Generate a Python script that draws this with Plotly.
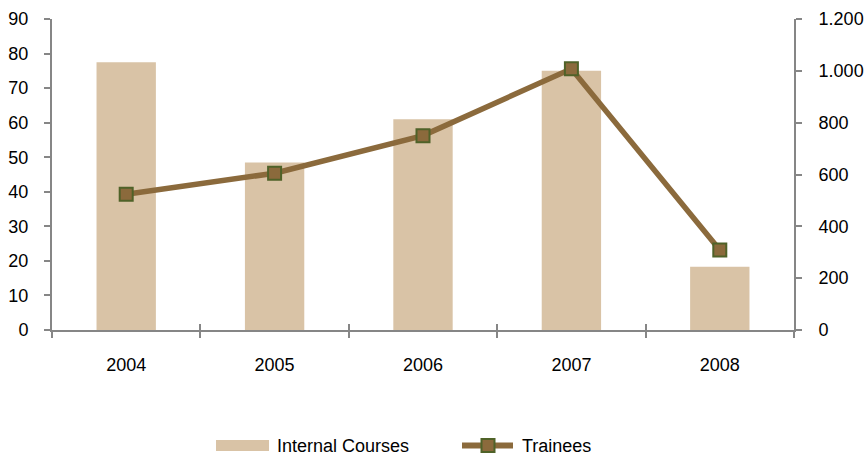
import plotly.graph_objects as go

years = ["2004", "2005", "2006", "2007", "2008"]
internal_courses = [77.5, 48.5, 61, 75, 18.3]
trainees = [524, 605, 750, 1008, 309]

left_ticks = [0, 10, 20, 30, 40, 50, 60, 70, 80, 90]
right_ticks = [0, 200, 400, 600, 800, 1000, 1200]
right_tick_text = ["0", "200", "400", "600", "800", "1.000", "1.200"]

BAR = "#D9C3A6"
LINE = "#8B6A3C"
EDGE = "#4F6228"
AXIS = "#868686"
FONT = dict(family="Liberation Sans, Arial, sans-serif", size=18, color="#000000")

W, H = 866, 460
ML, MR, MT, MB = 52, 72, 19, 130
PW, PH = W - ML - MR, H - MT - MB


def px(x):
    return (x - ML) / PW


def py(y):
    return (H - MB - y) / PH


fig = go.Figure()
fig.add_trace(go.Bar(
    x=years, y=internal_courses, name="Internal Courses",
    marker=dict(color=BAR, line=dict(width=0)),
    xaxis="x", yaxis="y", showlegend=False,
))
fig.add_trace(go.Scatter(
    x=years, y=trainees, name="Trainees", mode="lines+markers",
    line=dict(color=LINE, width=5.5),
    marker=dict(symbol="square", size=13, color=LINE, line=dict(color=EDGE, width=2)),
    xaxis="x", yaxis="y2", showlegend=False,
))
# invisible helper trace so the inside-tick overlay axis has categories
fig.add_trace(go.Scatter(x=years, y=[0] * len(years), mode="none", showlegend=False,
                         hoverinfo="skip", xaxis="x2", yaxis="y"))

axis_common = dict(showgrid=False, zeroline=False, linecolor=AXIS, linewidth=2,
                   tickcolor=AXIS, tickwidth=2, tickfont=FONT, automargin=False)
overlay_common = dict(showgrid=False, zeroline=False, showline=False, showticklabels=False,
                      ticks="inside", ticklen=6, tickcolor=AXIS, tickwidth=2, automargin=False)

# custom legend (wide swatches as in the original)
shapes = [
    dict(type="rect", xref="paper", yref="paper", x0=px(216), x1=px(269), y0=py(451), y1=py(440),
         fillcolor=BAR, line=dict(width=0)),
    dict(type="line", xref="paper", yref="paper", x0=px(462), x1=px(513), y0=py(445.5), y1=py(445.5),
         line=dict(color=LINE, width=6)),
    dict(type="rect", xref="paper", yref="paper", x0=px(481.5), x1=px(494.5), y0=py(452), y1=py(439),
         fillcolor=LINE, line=dict(color=EDGE, width=2)),
]
annotations = [
    dict(text="Internal Courses", xref="paper", yref="paper", x=px(275), y=py(446),
         xanchor="left", yanchor="middle", showarrow=False, font=FONT),
    dict(text="Trainees", xref="paper", yref="paper", x=px(520), y=py(446),
         xanchor="left", yanchor="middle", showarrow=False, font=FONT),
]

fig.update_layout(
    width=W, height=H,
    margin=dict(l=ML, r=MR, t=MT, b=MB),
    paper_bgcolor="white", plot_bgcolor="white",
    font=FONT,
    bargap=0.6,
    showlegend=False,
    shapes=shapes,
    annotations=annotations,
    xaxis=dict(**axis_common, type="category", categoryorder="array", categoryarray=years,
               range=[-0.5, 4.5], showline=True, ticks="outside", ticklen=6,
               tickson="boundaries", ticklabelstandoff=17),
    xaxis2=dict(**overlay_common, overlaying="x", anchor="y", side="bottom", type="category",
                categoryorder="array", categoryarray=years, range=[-0.5, 4.5],
                tickson="boundaries"),
    yaxis=dict(**axis_common, range=[0, 90], tickvals=left_ticks, showline=True,
               ticks="outside", ticklen=6, ticklabelstandoff=12),
    yaxis2=dict(**axis_common, overlaying="y", side="right", anchor="x", range=[0, 1200],
                tickvals=right_ticks, ticktext=right_tick_text, showline=True,
                ticks="outside", ticklen=6, ticklabelstandoff=13),
    yaxis3=dict(**overlay_common, overlaying="y", anchor="x", side="left", range=[0, 90],
                tickvals=left_ticks),
    yaxis4=dict(**overlay_common, overlaying="y", anchor="x", side="right", range=[0, 1200],
                tickvals=right_ticks),
)

fig.write_html("out.html",
               config={"displayModeBar": False},
               post_script="document.body.style.margin='0';document.body.style.overflow='hidden';")
